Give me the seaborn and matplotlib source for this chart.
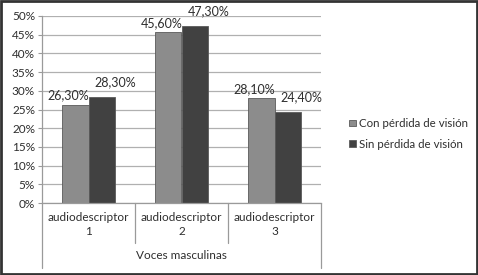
import numpy as np
import pandas as pd
import matplotlib
matplotlib.use("Agg")
import matplotlib.pyplot as plt
import matplotlib.transforms as mtransforms
from matplotlib.patches import Rectangle
import seaborn as sns

categories = ["audiodescriptor\n1", "audiodescriptor\n2", "audiodescriptor\n3"]
series = ["Con pérdida de visión", "Sin pérdida de visión"]
con_perdida = [26.3, 45.6, 28.1]
sin_perdida = [28.3, 47.3, 24.4]
group_label = "Voces masculinas"
yticks = [0, 5, 10, 15, 20, 25, 30, 35, 40, 45, 50]

df = pd.DataFrame({
    "cat": categories * 2,
    "serie": [series[0]] * 3 + [series[1]] * 3,
    "val": con_perdida + sin_perdida,
})

sns.set_style("white")
plt.rcParams["font.family"] = ["Lato", "DejaVu Sans"]
txt = "#2e2e2e"

fig = plt.figure(figsize=(4.78, 2.75), dpi=100)
ax = fig.add_axes([42 / 478, 1 - 203 / 275, (321 - 42) / 478, (203 - 16) / 275])

palette = {series[0]: "#8c8c8c", series[1]: "#414141"}
sns.barplot(data=df, x="cat", y="val", hue="serie", palette=palette,
            width=0.56, gap=0, edgecolor="#5a5a5a", linewidth=0.6,
            saturation=1, ax=ax, legend=True)

ax.set_ylim(0, 50)
ax.set_xlim(-0.5, 2.5)
ax.set_yticks(yticks)
ax.set_yticklabels([f"{t}%" for t in yticks], fontsize=8.5, color=txt)
ax.set_xticks([])
ax.set_xlabel("")
ax.set_ylabel("")
ax.yaxis.grid(True, color="#b0b0b0", linewidth=0.9)
ax.set_axisbelow(True)
ax.tick_params(axis="y", length=3, width=0.8, color="#9a9a9a", pad=2, left=True)
for s in ["top", "right"]:
    ax.spines[s].set_visible(False)
ax.spines["left"].set_color("#9a9a9a")
ax.spines["bottom"].set_color("#9a9a9a")
ax.spines["left"].set_linewidth(0.9)
ax.spines["bottom"].set_linewidth(0.9)

# value labels, nudged sideways so neighbouring labels don't collide
offsets = [(-7, 3), (14, 9)]
for cont, (dx, dy) in zip(ax.containers, offsets):
    for bar, v in zip(cont, cont.datavalues):
        ax.annotate(f"{v:.2f}%".replace(".", ","),
                    (bar.get_x() + bar.get_width() / 2, bar.get_height()),
                    xytext=(dx, dy), textcoords="offset pixels",
                    ha="center", va="bottom", fontsize=9, color=txt)

# category labels and separators below the axis
trans = mtransforms.blended_transform_factory(ax.transData, ax.transAxes)
for i, c in enumerate(categories):
    ax.text(i, -0.05, c, transform=trans, ha="center", va="top",
            fontsize=8.5, color=txt, linespacing=1.25)
for xs in [-0.5, 0.5, 1.5, 2.5]:
    low = -0.347 if xs in (-0.5, 2.5) else -0.214
    ax.plot([xs, xs], [0, low], transform=trans, color="#9a9a9a",
            linewidth=0.9, clip_on=False)
ax.text(1, -0.25, group_label, transform=trans, ha="center", va="top",
        fontsize=8.5, color=txt)

# legend
handles, labels = ax.get_legend_handles_labels()
ax.legend(handles, labels, loc="center left", bbox_to_anchor=(339 / 478, 1 - 134 / 275),
          bbox_transform=fig.transFigure, frameon=False, fontsize=8.3,
          handlelength=0.55, handleheight=0.55, handletextpad=0.3,
          labelspacing=0.85, labelcolor=txt)

fig.patches.append(Rectangle((0.002, 0.003), 0.996, 0.994, transform=fig.transFigure,
                             fill=False, edgecolor="#333333", linewidth=2))

fig.savefig("out.png", dpi=100)
